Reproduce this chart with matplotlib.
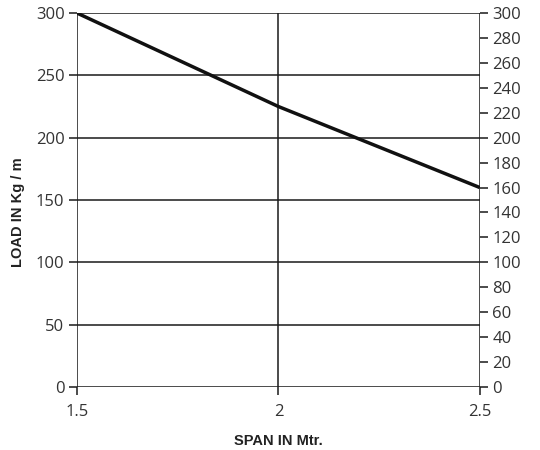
import matplotlib
matplotlib.use("Agg")
import matplotlib.pyplot as plt
import numpy as np

span = [1.5, 2.0, 2.5]
load = [300, 225, 160]
x_ticks = [1.5, 2.0, 2.5]
x_labels = ["1.5", "2", "2.5"]
left_ticks = [0, 50, 100, 150, 200, 250, 300]
right_ticks = list(range(0, 301, 20))

plt.rcParams['font.family'] = ['Open Sans', 'DejaVu Sans']

fig = plt.figure(figsize=(5.4, 4.5), dpi=100)
ax = fig.add_axes([0.1426, 0.14, 0.746, 0.831])
gc = '#1a1a1a'
tc = '#333333'

ax.set_xlim(1.5, 2.5)
ax.set_ylim(0, 300)
for y in left_ticks:
    ax.axhline(y, color=gc, lw=1.1, zorder=1)
for x in x_ticks:
    ax.axvline(x, color=gc, lw=1.1, zorder=1)
for s in ax.spines.values():
    s.set_visible(False)

ax.plot(span, load, color='#111111', lw=2.5, zorder=3, solid_capstyle='butt')

ax.set_xticks(x_ticks)
ax.set_xticklabels(x_labels)
ax.set_yticks(left_ticks)
ax.tick_params(axis='both', colors=gc, labelcolor=tc, labelsize=12, length=6, width=1.1, pad=3)
ax.tick_params(axis='x', pad=6)

ax2 = ax.twinx()
ax2.set_ylim(0, 300)
ax2.set_yticks(right_ticks)
for s in ax2.spines.values():
    s.set_visible(False)
ax2.tick_params(axis='y', direction='out', colors=gc, labelcolor=tc, labelsize=12, length=6, width=1.1, pad=3)

lab_font = dict(family=['Liberation Sans Narrow', 'Liberation Sans', 'DejaVu Sans'], weight='bold', size=10.5, color='#222222')
ax.set_xlabel('SPAN IN Mtr.', labelpad=10, **lab_font)
ax.set_ylabel('LOAD IN Kg / m', **lab_font)
ax.yaxis.set_label_coords(-0.13, 0.468)

fig.savefig('out.png', dpi=100)
